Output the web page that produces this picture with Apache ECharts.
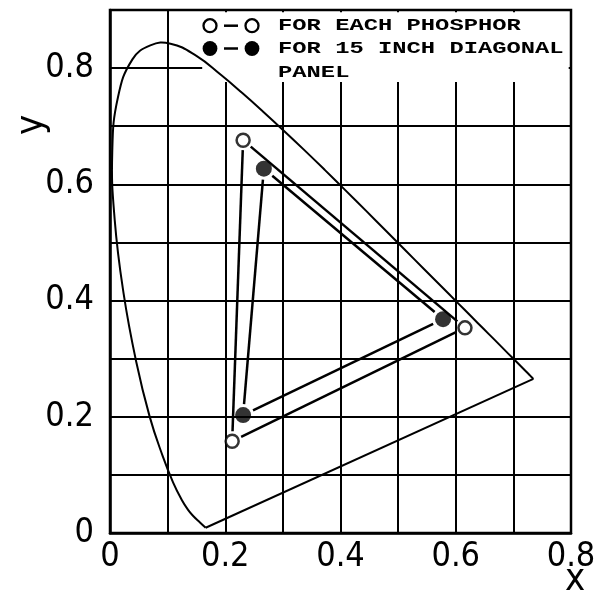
<!DOCTYPE html>
<html>
<head>
<meta charset="utf-8">
<script src="https://cdn.jsdelivr.net/npm/echarts@6/dist/echarts.min.js"></script>
<style>
html,body{margin:0;padding:0;background:#fff;}
#main{width:609px;height:596px;}
</style>
</head>
<body>
<div id="main"></div>
<script>
// Spectral locus (horseshoe)
const locusX = [0.166, 0.1566, 0.1440, 0.1355, 0.1241, 0.1096, 0.0913, 0.0687, 0.0454, 0.0235, 0.0082, 0.0039, 0.0139, 0.0389, 0.0700, 0.1050, 0.1500, 0.1929, 0.2296, 0.2658, 0.3016, 0.3373, 0.3731, 0.4087, 0.4441, 0.4788, 0.5125, 0.5448, 0.5752, 0.6029, 0.6270, 0.6482, 0.6658, 0.6915, 0.7079, 0.7190, 0.7260, 0.7300, 0.7347];
const locusY = [0.009, 0.0177, 0.0297, 0.0399, 0.0578, 0.0868, 0.1327, 0.2007, 0.2950, 0.4127, 0.5384, 0.6548, 0.7502, 0.8150, 0.8390, 0.8420, 0.8210, 0.7880, 0.7570, 0.7250, 0.6923, 0.6589, 0.6245, 0.5896, 0.5547, 0.5202, 0.4866, 0.4544, 0.4242, 0.3965, 0.3725, 0.3514, 0.3340, 0.3083, 0.2920, 0.2809, 0.2740, 0.2700, 0.2653];
// Purple line endpoints
const purpleX = [0.7347, 0.166];
const purpleY = [0.2653, 0.009];
// Primaries: G, R, B
const phosphorX = [0.231, 0.616, 0.212];
const phosphorY = [0.676, 0.353, 0.158];
const panelX = [0.267, 0.578, 0.231];
const panelY = [0.627, 0.368, 0.203];
// Axis ticks
const xTicks = [0, 0.2, 0.4, 0.6, 0.8];
const yTicks = [0, 0.2, 0.4, 0.6, 0.8];
const legendTexts = ['FOR EACH PHOSPHOR', 'FOR 15 INCH DIAGONAL', 'PANEL'];

const zip = (a, b) => a.map((v, i) => [v, b[i]]);
function segs(xs, ys, gap) {
  const out = [];
  for (let i = 0; i < xs.length; i++) {
    const j = (i + 1) % xs.length;
    out.push([xs[i], ys[i], xs[j], ys[j], gap]);
  }
  return out;
}
function fmt(list) {
  return function (v) {
    for (const t of list) {
      if (Math.abs(v - t) < 1e-6) return t === 0 ? '0' : t.toFixed(1);
    }
    return '';
  };
}

const chart = echarts.init(document.getElementById('main'), null, {renderer: 'canvas'});
const labelFamily = '"DejaVu Sans Condensed", "Liberation Sans", sans-serif';
const labelFont = {fontSize: 34, color: '#000', fontFamily: labelFamily};
const monoFont = 'bold 17px "Liberation Mono", "DejaVu Sans Mono", monospace';

chart.setOption({
  backgroundColor: '#fff',
  animation: false,
  grid: {left: 110, right: 38, top: 10, bottom: 63, show: true, borderColor: '#000', borderWidth: 2.5},
  xAxis: {
    type: 'value', min: 0, max: 0.8, interval: 0.1,
    axisLine: {show: true, lineStyle: {color: '#000', width: 2.5}},
    axisTick: {show: false},
    splitLine: {show: true, lineStyle: {color: '#000', width: 2}},
    axisLabel: Object.assign({formatter: fmt(xTicks), margin: 7}, labelFont)
  },
  yAxis: {
    type: 'value', min: 0, max: 0.9, interval: 0.1,
    axisLine: {show: true, lineStyle: {color: '#000', width: 2.5}},
    axisTick: {show: false},
    splitLine: {show: true, lineStyle: {color: '#000', width: 2}},
    axisLabel: Object.assign({formatter: fmt(yTicks), margin: 16}, labelFont)
  },
  series: [
    {
      type: 'custom', z: 1, silent: true,
      data: [[0.16, 0.776, 0.796, 0.896]],
      renderItem: function (params, api) {
        const p1 = api.coord([api.value(0), api.value(3)]);
        const p2 = api.coord([api.value(2), api.value(1)]);
        return {type: 'rect', shape: {x: p1[0], y: p1[1], width: p2[0] - p1[0], height: p2[1] - p1[1]}, style: {fill: '#fff'}};
      }
    },
    {
      // spectral locus as a smooth polyline through the read points
      type: 'custom', z: 3, silent: true,
      data: [[0]],
      renderItem: function (params, api) {
        const pts = locusX.map((x, i) => api.coord([x, locusY[i]]));
        return {type: 'polyline', shape: {points: pts, smooth: 0.45}, style: {stroke: '#000', lineWidth: 2, fill: null}};
      }
    },
    {
      type: 'line', z: 3, data: zip(purpleX, purpleY), symbol: 'none',
      lineStyle: {color: '#000', width: 2}
    },
    {
      type: 'custom', z: 4,
      data: segs(phosphorX, phosphorY, 10).concat(segs(panelX, panelY, 11)),
      renderItem: function (params, api) {
        const a = api.coord([api.value(0), api.value(1)]);
        const b = api.coord([api.value(2), api.value(3)]);
        const g = api.value(4);
        const dx = b[0] - a[0], dy = b[1] - a[1];
        const L = Math.sqrt(dx * dx + dy * dy);
        const ux = dx / L, uy = dy / L;
        return {
          type: 'line',
          shape: {x1: a[0] + ux * g, y1: a[1] + uy * g, x2: b[0] - ux * g, y2: b[1] - uy * g},
          style: {stroke: '#000', lineWidth: 2.5}
        };
      }
    },
    {
      type: 'scatter', z: 5, data: zip(phosphorX, phosphorY), symbol: 'circle', symbolSize: 13,
      itemStyle: {color: '#fff', borderColor: '#000', borderWidth: 2.5}
    },
    {
      type: 'scatter', z: 5, data: zip(panelX, panelY), symbol: 'circle', symbolSize: 16,
      itemStyle: {color: '#000'}
    }
  ],
  graphic: [
    {type: 'circle', z: 10, shape: {cx: 210, cy: 25.7, r: 6.5}, style: {fill: '#fff', stroke: '#000', lineWidth: 2.3}},
    {type: 'line', z: 10, shape: {x1: 224, y1: 25.7, x2: 238, y2: 25.7}, style: {stroke: '#000', lineWidth: 2.5}},
    {type: 'circle', z: 10, shape: {cx: 252, cy: 25.7, r: 6.5}, style: {fill: '#fff', stroke: '#000', lineWidth: 2.3}},
    {type: 'circle', z: 10, shape: {cx: 210, cy: 48.5, r: 7.4}, style: {fill: '#000'}},
    {type: 'line', z: 10, shape: {x1: 224, y1: 48.5, x2: 238, y2: 48.5}, style: {stroke: '#000', lineWidth: 2.5}},
    {type: 'circle', z: 10, shape: {cx: 252, cy: 48.5, r: 7.4}, style: {fill: '#000'}},
    {type: 'text', z: 10, x: 278, y: 25.7, scaleX: 1.4, style: {text: legendTexts[0], font: monoFont, fill: '#000', align: 'left', verticalAlign: 'middle'}},
    {type: 'text', z: 10, x: 278, y: 48.5, scaleX: 1.4, style: {text: legendTexts[1], font: monoFont, fill: '#000', align: 'left', verticalAlign: 'middle'}},
    {type: 'text', z: 10, x: 278, y: 73, scaleX: 1.4, style: {text: legendTexts[2], font: monoFont, fill: '#000', align: 'left', verticalAlign: 'middle'}},
    {type: 'text', z: 10, x: 32, y: 125, rotation: Math.PI / 2, style: {text: 'y', font: '38px ' + labelFamily, fill: '#000', align: 'center', verticalAlign: 'middle'}},
    {type: 'text', z: 10, x: 575, y: 580, style: {text: 'x', font: '38px ' + labelFamily, fill: '#000', align: 'center', verticalAlign: 'middle'}}
  ]
});
</script>
</body>
</html>
